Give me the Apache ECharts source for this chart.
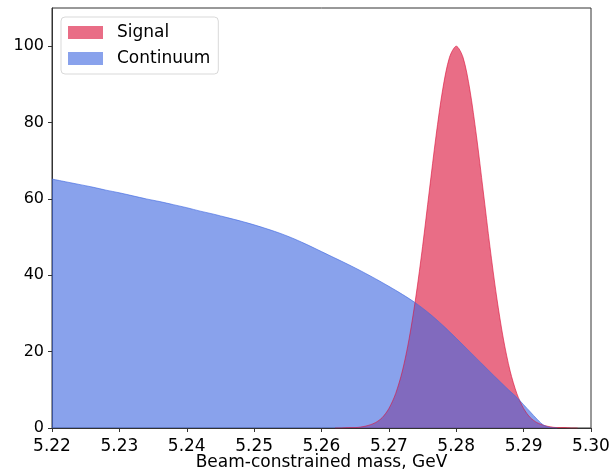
<!DOCTYPE html>
<html>
<head>
<meta charset="utf-8">
<script src="https://cdn.jsdelivr.net/npm/echarts@6/dist/echarts.min.js"></script>
<style>
  html, body { margin: 0; padding: 0; background: #fff; }
  #chart { width: 613px; height: 473px; }
</style>
</head>
<body>
<div id="chart"></div>
<script>
'use strict';
// values
var signalMass = [5.262, 5.263, 5.264, 5.265, 5.266, 5.267, 5.268, 5.269, 5.270, 5.271,
  5.272, 5.273, 5.274, 5.275, 5.276, 5.277, 5.278, 5.279, 5.280, 5.281, 5.282, 5.283,
  5.284, 5.285, 5.286, 5.287, 5.288, 5.289, 5.290, 5.291, 5.292, 5.293, 5.294, 5.295,
  5.296, 5.297, 5.298];
var signalValues = [0.0, 0.0, 0.1, 0.1, 0.3, 0.7, 1.4, 2.7, 5.1, 9.0,
  14.9, 23.3, 34.3, 47.5, 62.1, 76.5, 88.8, 97.1, 100, 97.1, 88.8, 76.5,
  62.1, 47.5, 34.3, 23.3, 14.9, 9.0, 5.1, 2.7, 1.4, 0.7, 0.3, 0.1,
  0.1, 0.0, 0.0];

var contMass = [5.220, 5.222, 5.224, 5.226, 5.228, 5.230, 5.232, 5.234, 5.236, 5.238,
  5.240, 5.242, 5.244, 5.246, 5.248, 5.250, 5.252, 5.254, 5.256, 5.258,
  5.260, 5.262, 5.264, 5.266, 5.268, 5.270, 5.272, 5.274, 5.276, 5.278,
  5.280, 5.282, 5.284, 5.286, 5.288, 5.289, 5.290, 5.291, 5.292, 5.293,
  5.294, 5.295];
var contValues = [65.2, 64.5, 63.8, 63.1, 62.3, 61.6, 60.8, 60.0, 59.3, 58.5,
  57.7, 56.8, 56.0, 55.1, 54.2, 53.2, 52.1, 50.9, 49.5, 47.9,
  46.2, 44.5, 42.8, 41.0, 39.1, 37.1, 35.0, 32.7, 30.0, 26.9,
  23.5, 20.0, 16.5, 13.0, 9.6, 8.0, 6.1, 4.2, 2.3, 0.7,
  0.1, 0.0];

var yTicks = [0, 20, 40, 60, 80, 100];

function pairs(xs, ys) {
  return xs.map(function (x, i) { return [x, ys[i]]; });
}

var myChart = echarts.init(document.getElementById('chart'), null, { renderer: 'canvas' });

var font = 'DejaVu Sans';
var option = {
  backgroundColor: '#fff',
  animation: false,
  textStyle: { fontFamily: font },
  grid: {
    left: 52,
    right: 22,
    top: 8,
    bottom: 45,
    outerBoundsMode: 'none',
    containLabel: false,
    show: true,
    borderColor: '#333',
    borderWidth: 1
  },
  legend: {
    orient: 'vertical',
    left: 61,
    top: 17,
    padding: [7, 8, 7, 7],
    itemWidth: 35,
    itemHeight: 13,
    itemGap: 9,
    icon: 'rect',
    borderColor: '#d9d9d9',
    borderWidth: 1,
    borderRadius: 4,
    backgroundColor: 'rgba(255,255,255,0.8)',
    textStyle: { fontFamily: font, fontSize: 17, color: '#000', padding: [0, 0, 0, 9] },
    data: ['Signal', 'Continuum']
  },
  xAxis: {
    type: 'value',
    min: 5.22,
    max: 5.30,
    interval: 0.01,
    name: 'Beam-constrained mass, GeV',
    nameLocation: 'middle',
    nameGap: 26,
    nameMoveOverlap: false,
    nameTextStyle: { fontFamily: font, fontSize: 17, color: '#000' },
    splitLine: { show: false },
    axisLine: { lineStyle: { color: '#333', width: 1 } },
    axisTick: { length: 4, inside: false, lineStyle: { color: '#333' } },
    axisLabel: {
      fontFamily: font,
      fontSize: 17,
      color: '#000',
      margin: 10,
      formatter: function (v) { return v.toFixed(2); }
    }
  },
  yAxis: {
    type: 'value',
    min: 0,
    max: 110,
    interval: 20,
    splitLine: { show: false },
    axisLine: { show: true, lineStyle: { color: '#333', width: 1 } },
    axisTick: { show: true, length: 4, customValues: yTicks, lineStyle: { color: '#333' } },
    axisLabel: {
      fontFamily: font,
      fontSize: 16,
      color: '#000',
      margin: 8,
      customValues: yTicks
    }
  },
  series: [
    {
      name: 'Signal',
      type: 'line',
      showSymbol: false,
      symbol: 'none',
      smooth: 0.3,
      itemStyle: { color: 'rgba(220,20,60,0.62)' },
      lineStyle: { width: 1, color: 'rgba(220,20,60,0.62)' },
      areaStyle: { color: 'rgba(220,20,60,0.62)', opacity: 1 },
      data: pairs(signalMass, signalValues)
    },
    {
      name: 'Continuum',
      type: 'line',
      showSymbol: false,
      symbol: 'none',
      smooth: 0.3,
      itemStyle: { color: 'rgba(65,105,225,0.62)' },
      lineStyle: { width: 1, color: 'rgba(65,105,225,0.62)' },
      areaStyle: { color: 'rgba(65,105,225,0.62)', opacity: 1 },
      data: pairs(contMass, contValues)
    }
  ]
};

myChart.setOption(option);
</script>
</body>
</html>
